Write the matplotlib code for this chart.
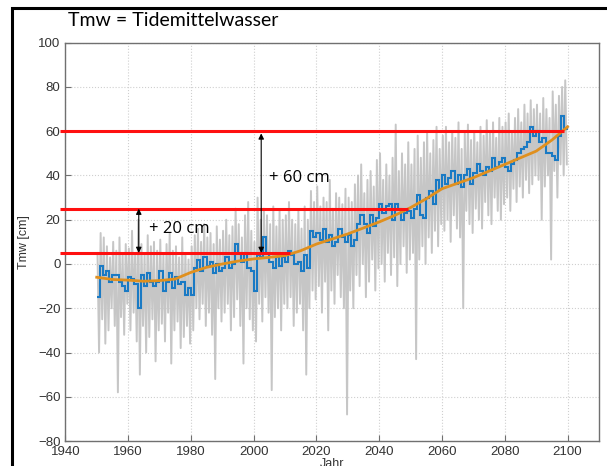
import matplotlib
matplotlib.use("Agg")
import matplotlib.pyplot as plt
from matplotlib.patches import Rectangle
import numpy as np

# Jahresmittel (blau), 1950..2099
blue_vals = [-15, -1, -5, -3, -8, -5, -5, -8, -10, -12,
             -6, -7, -9, -20, -5, -10, -4, -8, -10, -8,
             -3, -12, -8, -4, -11, -6, -9, -8, -14, -11,
             -14, -2, 2, -3, 3, -1, 1, -4, 0, -3,
             -2, 3, -2, 0, 9, 5, 1, 5, -2, -3,
             -12, 4, 3, 12, 5, 1, -2, 3, -1, 3,
             1, 6, 4, 0, 1, -3, 4, -2, 15, 12,
             14, 11, 16, 10, 13, 8, 10, 16, 12, 10,
             13, 8, 11, 18, 22, 18, 14, 22, 17, 21,
             27, 23, 26, 27, 20, 27, 25, 20, 23, 24,
             21, 25, 31, 22, 21, 30, 33, 27, 38, 34,
             40, 36, 39, 42, 36, 40, 35, 40, 43, 36,
             41, 45, 42, 40, 44, 42, 48, 44, 46, 48,
             44, 42, 45, 47, 50, 52, 53, 55, 62, 58,
             60, 55, 57, 50, 50, 49, 47, 58, 67, 61]
blue_edges = np.arange(1950, 2101)

# Einzelwerte (grau): obere und untere Ausschlaege je Jahr
grey_hi = [5, 14, 12, 8, 3, 10, 6, 12, 4, 9,
           7, 15, 5, 20, 9, 4, 13, 8, 10, 6,
           11, 4, 9, 14, 6, 8, 3, 12, 5, 2,
           8, 13, 16, 10, 18, 12, 14, 9, 17, 11,
           15, 20, 13, 17, 25, 18, 12, 22, 28, 15,
           10, 30, 20, 25, 22, 18, 26, 17, 24, 20,
           22, 28, 20, 18, 24, 16, 26, 20, 33, 28,
           35, 26, 30, 28, 38, 25, 32, 30, 27, 34,
           30, 28, 36, 40, 45, 32, 38, 42, 35, 47,
           50, 38, 45, 40, 48, 63, 42, 50, 45, 55,
           45, 52, 58, 48, 55, 60, 50, 56, 62, 52,
           58, 62, 55, 60, 57, 64, 52, 59, 63, 56,
           60, 55, 62, 58, 65, 60, 64, 57, 66, 62,
           64, 68, 60, 66, 70, 64, 72, 68, 74, 70,
           72, 68, 75, 70, 66, 78, 72, 76, 80, 83]
grey_lo = [-40, -25, -36, -30, -20, -28, -58, -24, -32, -18,
           -30, -22, -35, -50, -28, -40, -33, -25, -44, -30,
           -27, -35, -22, -45, -30, -26, -38, -33, -28, -36,
           -30, -20, -25, -18, -28, -22, -32, -52, -20, -26,
           -22, -18, -30, -24, -16, -28, -45, -20, -25, -30,
           -35, -18, -26, -15, -22, -57, -24, -20, -30, -18,
           -20, -15, -28, -22, -18, -30, -50, -20, -12, -16,
           -10, -22, -8, -30, -12, -18, -5, -15, -20, -68,
           -12, -20, -5, -10, 0, -15, -8, 2, -12, -2,
           0, -8, 5, -5, 3, -10, 0, 8, -4, 2,
           5, -43, 2, 8, 0, 12, 5, 15, 8, 18,
           15, 20, 10, 22, 16, 12, -20, 24, 18, 14,
           25, 20, 16, 28, 22, 18, 30, 24, 20, 27,
           30, 24, 34, 28, 35, 30, 38, 32, 36, 40,
           38, 20, 35, 40, 2, 42, 30, 45, 40, 45]

# Trend (orange)
trend_years = [1950, 1955, 1960, 1965, 1970, 1975, 1980, 1985, 1990, 1995,
               2000, 2005, 2010, 2015, 2020, 2025, 2030, 2035, 2040, 2045,
               2050, 2055, 2060, 2065, 2070, 2075, 2080, 2085, 2090, 2095, 2100]
trend_vals = [-6, -7, -7.3, -7.8, -7.5, -6.8, -3.8, -1.5, 0, 1.3,
              2.3, 3, 3.8, 6, 9, 11.3, 13.6, 16.3, 19, 22,
              25.5, 29.5, 34, 36.5, 39, 42, 45, 48, 51, 56, 62]

# rote Bezugslinien: Hoehe, Ende
ref_levels = [5, 25, 60]
ref_ends = [2011.5, 2049.2, 2098.8]

grey_x = []
grey_y = []
for i in range(len(grey_hi)):
    grey_x += [1950 + i + 0.25, 1950 + i + 0.75]
    grey_y += [grey_hi[i], grey_lo[i]]

fig = plt.figure(figsize=(6.07, 4.66), dpi=100)
ax = fig.add_axes([0.1076, 0.0536, 0.8792, 0.8548])

ax.plot(grey_x, grey_y, color='#c6c6c6', lw=1.4, zorder=2)
ax.stairs(blue_vals, blue_edges, baseline=None, color='#1a7ac4', lw=1.5, zorder=3)
ax.plot(trend_years, trend_vals, color='#e0901e', lw=2.0, zorder=4)

for lvl, end in zip(ref_levels, ref_ends):
    ax.plot([1938.3, end], [lvl, lvl], color='#ff1010', lw=2.2,
            solid_capstyle='butt', clip_on=False, zorder=5)

arrow = dict(arrowstyle='<|-|>', color='black', lw=0.8, mutation_scale=8,
             shrinkA=0, shrinkB=0)
ax.annotate('', xy=(1963.4, 25), xytext=(1963.4, 5), arrowprops=arrow, zorder=6)
ax.annotate('', xy=(2002.4, 59), xytext=(2002.4, 5), arrowprops=arrow, zorder=6)
ax.text(1966.5, 16, '+ 20 cm', fontsize=12, family='Open Sans', va='center', zorder=6)
ax.text(2004.8, 39, '+ 60 cm', fontsize=12, family='Open Sans', va='center', zorder=6)

ax.set_xlim(1940, 2110)
ax.set_ylim(-80, 100)
ax.set_xticks(np.arange(1940, 2101, 20))
ax.set_yticks(np.arange(-80, 101, 20))
ax.grid(True, color='#cfcfcf', linestyle=':', lw=0.8)
ax.tick_params(direction='in', length=4, color='#707070', labelsize=9.5,
               labelcolor='#333333')
for lab in ax.get_xticklabels() + ax.get_yticklabels():
    lab.set_family('Liberation Sans')
for sp in ax.spines.values():
    sp.set_color('#707070')
    sp.set_linewidth(1.0)
ax.set_ylabel('Tmw [cm]', fontsize=9, family='Liberation Sans', color='#333333', labelpad=6)
ax.set_xlabel('Jahr', fontsize=9, family='Liberation Sans', color='#333333', labelpad=0)

fig.text(0.112, 0.957, 'Tmw = Tidemittelwasser', fontsize=14, family='Lato',
         va='center', ha='left')

fig.patches.append(Rectangle((12 / 607, -0.1), 1.0, 1.1 - 7.5 / 466, transform=fig.transFigure,
                             fill=False, edgecolor='black', lw=2.2, zorder=10))

fig.savefig('out.png', dpi=100)
